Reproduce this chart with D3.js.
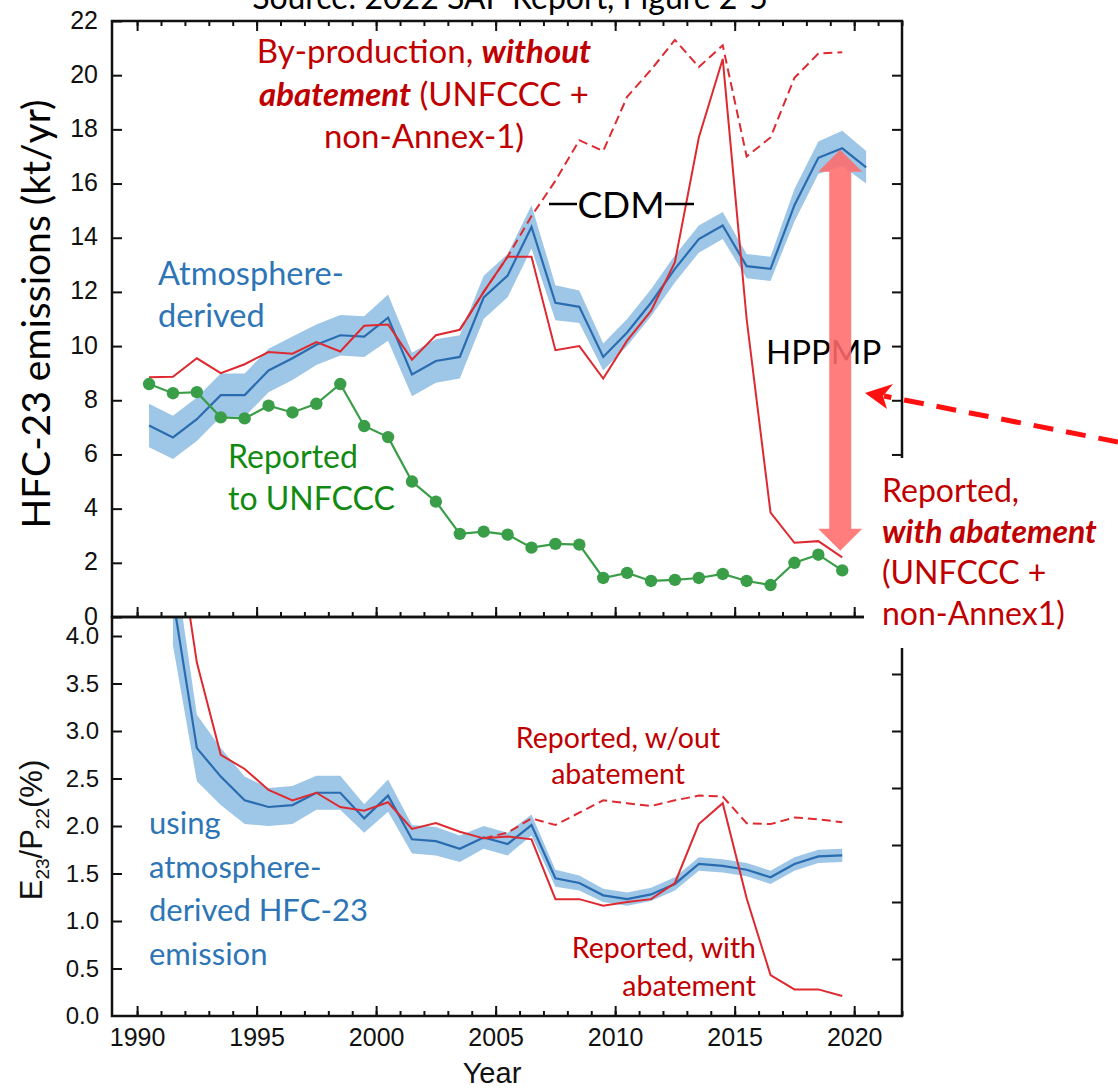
<!DOCTYPE html>
<html>
<head>
<meta charset="utf-8">
<script src="https://cdn.jsdelivr.net/npm/d3@7"></script>
<style>
body { margin: 0; background: #fff; }
text { font-family: Lato, "Open Sans", sans-serif; }
.tick text, .axlab { font-family: "Liberation Sans", Arial, sans-serif; fill: #111; }
.tick line { stroke: #111; stroke-width: 2; }
</style>
</head>
<body>
<svg id="chart" width="1118" height="1088"></svg>
<script>
////////////////////////////////////////
// HFC-23 emissions, data read off SAP 2022 fig 2-5
////////////////////////////////////////

var years = [1990,1991,1992,1993,1994,1995,1996,1997,1998,1999,2000,2001,2002,2003,2004,2005,
             2006,2007,2008,2009,2010,2011,2012,2013,2014,2015,2016,2017,2018,2019,2020];

// atmosphere-derived emissions (kt/yr) and half width of the shaded band
var atmosEmis = [7.07,6.63,7.3,8.19,8.19,9.1,9.55,10.05,10.4,10.35,11.05,8.95,9.45,9.6,11.8,12.6,
                 14.4,11.6,11.45,9.6,10.5,11.6,12.85,13.95,14.45,12.95,12.85,15.2,16.95,17.3,16.6];
var atmosEmisErr = [0.8,0.8,0.8,0.8,0.8,0.8,0.8,0.75,0.75,0.75,0.85,0.8,0.8,0.8,0.8,0.8,
                    0.8,0.65,0.6,0.5,0.5,0.5,0.5,0.5,0.5,0.45,0.45,0.6,0.6,0.65,0.6];

// by-production with abatement, 1990-2019
var reportedAbated = [8.85,8.87,9.55,9.0,9.33,9.78,9.72,10.15,9.8,10.75,10.8,9.5,10.4,10.6,12.0,13.3,
                      13.3,9.85,10.0,8.8,10.2,11.3,13.1,17.7,20.6,11.0,3.85,2.74,2.8,2.2];

// by-production without abatement
var unabatedYears = [2003,2004,2005,2006,2007,2008,2009,2010,2011,2012,2013,2014,2015,2016,2017,2018,2019];
var reportedUnabated = [10.6,12.0,13.3,14.8,16.1,17.6,17.2,19.2,20.2,21.3,20.3,21.1,17.0,17.7,19.9,20.8,20.85];

// reported to UNFCCC, 1990-2019
var unfcccReported = [8.6,8.26,8.3,7.37,7.33,7.8,7.55,7.87,8.6,7.05,6.64,5.0,4.26,3.07,3.15,3.04,
                      2.56,2.7,2.67,1.44,1.63,1.33,1.37,1.44,1.59,1.33,1.18,2.0,2.3,1.72];

// lower panel: E23/P22 (%)
var ratioYears = [1991,1992,1993,1994,1995,1996,1997,1998,1999,2000,2001,2002,2003,2004,2005,
                  2006,2007,2008,2009,2010,2011,2012,2013,2014,2015,2016,2017,2018,2019];
var ratioAtmos = [4.4,2.82,2.52,2.27,2.2,2.22,2.35,2.35,2.08,2.32,1.86,1.84,1.76,1.88,1.81,
                  2.01,1.45,1.40,1.27,1.23,1.28,1.39,1.6,1.58,1.54,1.46,1.6,1.68,1.69];
var ratioAtmosErr = [0.5,0.35,0.3,0.25,0.2,0.2,0.18,0.18,0.15,0.17,0.15,0.15,0.14,0.12,0.12,
                     0.11,0.09,0.08,0.07,0.07,0.07,0.07,0.07,0.07,0.07,0.07,0.07,0.07,0.07];
var ratioAbated = [5.4,3.72,2.75,2.6,2.38,2.27,2.35,2.2,2.16,2.25,1.97,2.03,1.94,1.87,1.89,
                   1.86,1.23,1.23,1.16,1.2,1.23,1.4,2.02,2.24,1.24,0.43,0.28,0.28,0.21];
var ratioUnabatedYears = [2004,2005,2006,2007,2008,2009,2010,2011,2012,2013,2014,2015,2016,2017,2018,2019];
var ratioUnabated = [1.87,1.93,2.08,2.01,2.14,2.27,2.24,2.21,2.27,2.32,2.31,2.03,2.02,2.09,2.07,2.04];

// ticks
var xMajorTicks = [1990,1995,2000,2005,2010,2015,2020];
var xMinorTicks = years.concat([2021, 2022]);
var topTicks = [0,2,4,6,8,10,12,14,16,18,20,22];
var botTicks = [0,0.5,1.0,1.5,2.0,2.5,3.0,3.5,4.0];
var botRightTicks = [0,1,2,3,4,5,6,7];

// HPPMP arrow ends (kt/yr) at 2019
var hppmpArrow = [17.25, 2.45];

////////////////////////////////////////

(function() {

var svg = d3.select("#chart");
svg.append("rect").attr("width", 1118).attr("height", 1088).attr("fill", "#fff");

var pLeft = 112, pRight = 902, pTop = 21, pMid = 617, pBottom = 1016;
var midYear = 0.5; // values plotted at the middle of the year

var x = d3.scaleLinear().domain([1988.95, 2022.0]).range([pLeft, pRight]);
var yTop = d3.scaleLinear().domain([0, 22]).range([pMid, pTop]);
var yBot = d3.scaleLinear().domain([0, 4.2]).range([pBottom, pMid]);
var yBotRight = d3.scaleLinear().domain([0, 7]).range([pBottom, pMid]);

var red = "#dd2a30", blue = "#2a6cb0", band = "#9ec6e6", green = "#3a9e48";
var redText = "#c00000", blueText = "#2e75b6", greenText = "#128a12";

// clip each panel
var defs = svg.append("defs");
defs.append("clipPath").attr("id", "clipTop").append("rect")
    .attr("x", pLeft).attr("y", pTop).attr("width", pRight - pLeft).attr("height", pMid - pTop);
defs.append("clipPath").attr("id", "clipBot").append("rect")
    .attr("x", pLeft).attr("y", pMid).attr("width", pRight - pLeft).attr("height", pBottom - pMid);

function px(yr) { return x(yr + midYear); }

////////////////////////////////////////
// top panel

var gTop = svg.append("g").attr("clip-path", "url(#clipTop)");

var topBand = d3.area()
    .x(function(d, i) { return px(years[i]); })
    .y0(function(d, i) { return yTop(d - atmosEmisErr[i]); })
    .y1(function(d, i) { return yTop(d + atmosEmisErr[i]); });

gTop.append("path").datum(atmosEmis).attr("d", topBand).attr("fill", band);

gTop.append("path").datum(atmosEmis)
    .attr("d", d3.line().x(function(d, i) { return px(years[i]); }).y(function(d) { return yTop(d); }))
    .attr("fill", "none").attr("stroke", blue).attr("stroke-width", 2.2);

gTop.append("path").datum(reportedUnabated)
    .attr("d", d3.line().x(function(d, i) { return px(unabatedYears[i]); }).y(function(d) { return yTop(d); }))
    .attr("fill", "none").attr("stroke", red).attr("stroke-width", 2)
    .attr("stroke-dasharray", "9,5");

gTop.append("path").datum(reportedAbated)
    .attr("d", d3.line().x(function(d, i) { return px(years[i]); }).y(function(d) { return yTop(d); }))
    .attr("fill", "none").attr("stroke", red).attr("stroke-width", 2);

gTop.append("path").datum(unfcccReported)
    .attr("d", d3.line().x(function(d, i) { return px(years[i]); }).y(function(d) { return yTop(d); }))
    .attr("fill", "none").attr("stroke", green).attr("stroke-width", 2.2);

gTop.selectAll("circle.unfccc").data(unfcccReported).enter().append("circle")
    .attr("class", "unfccc")
    .attr("cx", function(d, i) { return px(years[i]); })
    .attr("cy", function(d) { return yTop(d); })
    .attr("r", 6.2)
    .attr("fill", green);

////////////////////////////////////////
// bottom panel

var gBot = svg.append("g").attr("clip-path", "url(#clipBot)");

var botBand = d3.area()
    .x(function(d, i) { return px(ratioYears[i]); })
    .y0(function(d, i) { return yBot(d - ratioAtmosErr[i]); })
    .y1(function(d, i) { return yBot(d + ratioAtmosErr[i]); });

gBot.append("path").datum(ratioAtmos).attr("d", botBand).attr("fill", band);

gBot.append("path").datum(ratioAtmos)
    .attr("d", d3.line().x(function(d, i) { return px(ratioYears[i]); }).y(function(d) { return yBot(d); }))
    .attr("fill", "none").attr("stroke", blue).attr("stroke-width", 2.2);

gBot.append("path").datum(ratioUnabated)
    .attr("d", d3.line().x(function(d, i) { return px(ratioUnabatedYears[i]); }).y(function(d) { return yBot(d); }))
    .attr("fill", "none").attr("stroke", red).attr("stroke-width", 2)
    .attr("stroke-dasharray", "9,5");

gBot.append("path").datum(ratioAbated)
    .attr("d", d3.line().x(function(d, i) { return px(ratioYears[i]); }).y(function(d) { return yBot(d); }))
    .attr("fill", "none").attr("stroke", red).attr("stroke-width", 2);

////////////////////////////////////////
// axes, all ticks point inward

function cleanAxis(g) { g.select(".domain").remove(); }

svg.append("g").attr("transform", "translate(0," + pTop + ")")
    .call(d3.axisTop(x).tickValues(xMinorTicks).tickSize(-5).tickFormat("")).call(cleanAxis);
svg.append("g").attr("transform", "translate(0," + pTop + ")")
    .call(d3.axisTop(x).tickValues(xMajorTicks).tickSize(-10).tickFormat("")).call(cleanAxis);
svg.append("g").attr("transform", "translate(0," + pMid + ")")
    .call(d3.axisBottom(x).tickValues(xMinorTicks).tickSize(-5).tickFormat("")).call(cleanAxis);
svg.append("g").attr("transform", "translate(0," + pMid + ")")
    .call(d3.axisBottom(x).tickValues(xMajorTicks).tickSize(-10).tickFormat("")).call(cleanAxis);
svg.append("g").attr("transform", "translate(0," + pBottom + ")")
    .call(d3.axisBottom(x).tickValues(xMinorTicks).tickSize(-5).tickFormat("")).call(cleanAxis);
svg.append("g").attr("transform", "translate(0," + pBottom + ")")
    .call(d3.axisBottom(x).tickValues(xMajorTicks).tickSize(-10).tickPadding(14).tickFormat(d3.format("d")))
    .call(cleanAxis)
    .selectAll("text").attr("font-size", 25).attr("dy", "0.62em");

svg.append("g").attr("transform", "translate(" + pLeft + ",0)")
    .call(d3.axisLeft(yTop).tickValues(topTicks).tickSize(-10).tickPadding(14).tickFormat(d3.format("d")))
    .call(cleanAxis)
    .selectAll("text").attr("font-size", 25).attr("dy", "0.28em");
svg.append("g").attr("transform", "translate(" + pRight + ",0)")
    .call(d3.axisRight(yTop).tickValues(topTicks.slice(1, 11)).tickSize(-10).tickFormat(""))
    .call(cleanAxis);

var botAxis = svg.append("g").attr("transform", "translate(" + pLeft + ",0)")
    .call(d3.axisLeft(yBot).tickValues(botTicks).tickSize(-10).tickPadding(13).tickFormat(d3.format(".1f")))
    .call(cleanAxis);
botAxis.selectAll("text").attr("font-size", 24);
botAxis.selectAll(".tick").filter(function(d) { return d === 0; }).select("line").remove();
svg.append("g").attr("transform", "translate(" + pRight + ",0)")
    .call(d3.axisRight(yBotRight).tickValues(botRightTicks.slice(1)).tickSize(-10).tickFormat(""))
    .call(cleanAxis);

// frames
svg.append("rect").attr("x", pLeft).attr("y", pTop).attr("width", pRight - pLeft).attr("height", pMid - pTop)
    .attr("fill", "none").attr("stroke", "#111").attr("stroke-width", 2.5);
svg.append("rect").attr("x", pLeft).attr("y", pMid).attr("width", pRight - pLeft).attr("height", pBottom - pMid)
    .attr("fill", "none").attr("stroke", "#111").attr("stroke-width", 2.5);

////////////////////////////////////////
// axis titles

svg.append("text").attr("transform", "translate(50," + 314 + ") rotate(-90)")
    .attr("text-anchor", "middle").attr("font-size", 39).attr("fill", "#000")
    .text("HFC-23 emissions (kt/yr)");

var eLab = svg.append("text").attr("class", "axlab")
    .attr("transform", "translate(42,830) rotate(-90)")
    .attr("text-anchor", "middle").attr("font-size", 31);
eLab.append("tspan").text("E");
eLab.append("tspan").attr("font-size", 19).attr("dy", 7).text("23");
eLab.append("tspan").attr("dy", -7).text("/P");
eLab.append("tspan").attr("font-size", 19).attr("dy", 7).text("22");
eLab.append("tspan").attr("dy", -7).text("(%)");

svg.append("text").attr("class", "axlab").attr("x", 492).attr("y", 1083)
    .attr("text-anchor", "middle").attr("font-size", 29).text("Year");

svg.append("text").attr("x", 510).attr("y", 9).attr("text-anchor", "middle")
    .attr("font-size", 32).attr("fill", "#000").text("Source: 2022 SAP Report, Figure 2-5");

////////////////////////////////////////
// annotations

function addLines(xPos, yPos, lineGap, anchor, size, color, lines) {
    lines.forEach(function(parts, i) {
        var t = svg.append("text").attr("x", xPos).attr("y", yPos + i * lineGap)
            .attr("text-anchor", anchor).attr("font-size", size).attr("fill", color);
        parts.forEach(function(p) {
            var s = t.append("tspan").text(p[0]);
            if (p[1]) s.attr("font-weight", "bold").attr("font-style", "italic");
        });
    });
}

addLines(424, 63, 42.5, "middle", 33, redText, [
    [["By-production, "], ["without", true]],
    [["abatement", true], [" (UNFCCC +"]],
    [["non-Annex-1)"]]
]);

addLines(158, 285, 42, "start", 32.5, blueText, [[["Atmosphere-"]], [["derived"]]]);
addLines(228, 468, 42, "start", 32, greenText, [[["Reported"]], [["to UNFCCC"]]]);

// CDM period marker
svg.append("text").attr("x", 621).attr("y", 218).attr("text-anchor", "middle")
    .attr("font-size", 37).attr("fill", "#000").text("CDM");
svg.append("line").attr("x1", 549).attr("x2", 577).attr("y1", 204).attr("y2", 204)
    .attr("stroke", "#000").attr("stroke-width", 2.5);
svg.append("line").attr("x1", 665).attr("x2", 694).attr("y1", 204).attr("y2", 204)
    .attr("stroke", "#000").attr("stroke-width", 2.5);

svg.append("text").attr("x", 766).attr("y", 364).attr("font-size", 33).attr("fill", "#000").text("HPPMP");

// double headed HPPMP arrow
var ax = px(2019) - 2, yA = yTop(hppmpArrow[0]), yB = yTop(hppmpArrow[1]);
var sw = 11, hw = 22, hl = 22;
svg.append("path")
    .attr("d", "M" + ax + "," + yA + " L" + (ax + hw) + "," + (yA + hl) + " L" + (ax + sw) + "," + (yA + hl) +
        " L" + (ax + sw) + "," + (yB - hl) + " L" + (ax + hw) + "," + (yB - hl) + " L" + ax + "," + yB +
        " L" + (ax - hw) + "," + (yB - hl) + " L" + (ax - sw) + "," + (yB - hl) + " L" + (ax - sw) + "," + (yA + hl) +
        " L" + (ax - hw) + "," + (yA + hl) + "Z")
    .attr("fill", "#ff6b6b").attr("fill-opacity", 0.88);

// white box behind right hand note
svg.append("rect").attr("x", 864).attr("y", 458).attr("width", 254).attr("height", 190).attr("fill", "#fff");

addLines(882, 502, 41, "start", 32, redText, [
    [["Reported,"]],
    [["with abatement", true]],
    [["(UNFCCC +"]],
    [["non-Annex1)"]]
]);

// red dashed pointer
svg.append("line").attr("x1", 1118).attr("y1", 442).attr("x2", 884).attr("y2", 396)
    .attr("stroke", "#ff1010").attr("stroke-width", 5).attr("stroke-dasharray", "20,13");
svg.append("path").attr("d", "M865,393 L893,384 L883,396 L887,409 Z").attr("fill", "#ff1010");

addLines(618, 748, 36, "middle", 28.5, redText, [[["Reported, w/out"]], [["abatement"]]]);
addLines(756, 958, 38, "end", 28.5, redText, [[["Reported, with"]], [["abatement"]]]);
addLines(149, 834, 43.5, "start", 31, blueText, [
    [["using"]], [["atmosphere-"]], [["derived HFC-23"]], [["emission"]]
]);

})();
</script>
</body>
</html>
